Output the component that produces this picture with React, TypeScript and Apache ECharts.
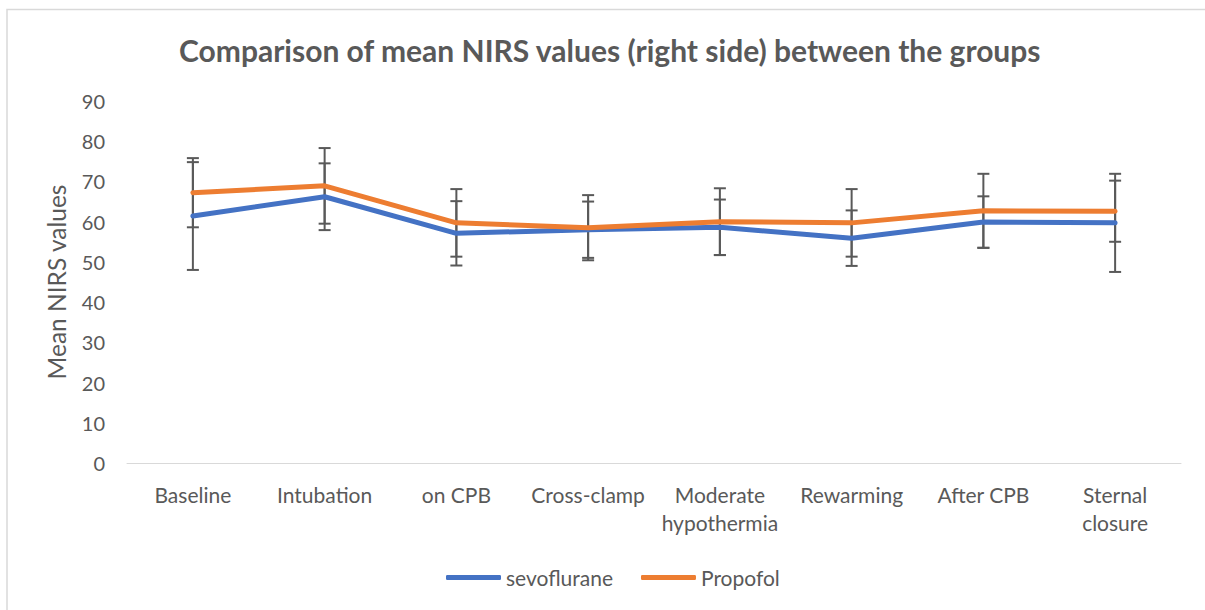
import React, { useEffect, useRef } from "react";
import * as echarts from "echarts";

const categories = [
  "Baseline",
  "Intubation",
  "on CPB",
  "Cross-clamp",
  "Moderate\nhypothermia",
  "Rewarming",
  "After CPB",
  "Sternal\nclosure",
];
const sevoMean = [61.4, 66.2, 57.1, 58.0, 58.6, 55.9, 59.9, 59.7];
const sevoErr = [13.4, 8.3, 8.0, 7.0, 6.9, 6.9, 6.4, 12.2];
const propMean = [67.2, 68.9, 59.7, 58.5, 60.0, 59.7, 62.7, 62.6];
const propErr = [8.6, 9.4, 8.4, 8.1, 8.3, 8.4, 9.2, 7.6];
const yTicks = { min: 0, max: 90, interval: 10 };

const FONT = "Lato";
const GREY = "#595959";

function errData(mean: number[], err: number[]) {
  return mean.map((m, i) => [i, m - err[i], m + err[i]]);
}

function renderErr(params: any, api: any) {
  const x = api.value(0);
  const lo = api.coord([x, api.value(1)]);
  const hi = api.coord([x, api.value(2)]);
  const cap = 6;
  const style = { stroke: GREY, lineWidth: 2 };
  return {
    type: "group",
    children: [
      { type: "line", shape: { x1: lo[0], y1: lo[1], x2: hi[0], y2: hi[1] }, style },
      { type: "line", shape: { x1: hi[0] - cap, y1: hi[1], x2: hi[0] + cap, y2: hi[1] }, style },
      { type: "line", shape: { x1: lo[0] - cap, y1: lo[1], x2: lo[0] + cap, y2: lo[1] }, style },
    ],
  };
}

export default function App() {
  const ref = useRef<HTMLDivElement>(null);
  useEffect(() => {
    document.body.style.margin = "0";
    const chart = echarts.init(ref.current!, null, { renderer: "svg" });
    chart.setOption({
      animation: false,
      backgroundColor: "#ffffff",
      textStyle: { fontFamily: FONT },
      title: {
        text: "Comparison of mean NIRS values (right side) between the groups",
        left: 174,
        top: 30,
        textStyle: { fontFamily: FONT, fontSize: 30, fontWeight: "bold", color: GREY },
      },
      graphic: [
        {
          type: "rect",
          shape: { x: 7, y: 9.5, width: 1400, height: 800 },
          style: { fill: "none", stroke: "#d9d9d9", lineWidth: 1.5 },
          silent: true,
        },
      ],
      legend: {
        left: 441,
        top: 562,
        icon: "roundRect",
        itemWidth: 55,
        itemHeight: 5,
        itemGap: 28,
        textStyle: { fontFamily: FONT, fontSize: 21, color: GREY },
        data: ["sevoflurane", "Propofol"],
      },
      grid: { left: 127, right: 24, top: 101, bottom: 147 },
      xAxis: {
        type: "category",
        data: categories,
        boundaryGap: true,
        axisLine: { show: true, lineStyle: { color: "#d9d9d9", width: 1 } },
        axisTick: { show: false },
        axisLabel: {
          interval: 0,
          fontFamily: FONT,
          fontSize: 21,
          color: GREY,
          margin: 17,
          lineHeight: 28,
        },
      },
      yAxis: {
        type: "value",
        min: yTicks.min,
        max: yTicks.max,
        interval: yTicks.interval,
        name: "Mean NIRS values",
        nameLocation: "middle",
        nameGap: 58,
        nameTextStyle: { fontFamily: FONT, fontSize: 24.5, color: GREY },
        axisLine: { show: false },
        axisTick: { show: false },
        splitLine: { show: false },
        axisLabel: { fontFamily: FONT, fontSize: 20, color: GREY, margin: 22 },
      },
      series: [
        {
          type: "custom",
          name: "sevoErr",
          renderItem: renderErr,
          data: errData(sevoMean, sevoErr),
          encode: { x: 0, y: [1, 2] },
          z: 1,
          silent: true,
        },
        {
          type: "custom",
          name: "propErr",
          renderItem: renderErr,
          data: errData(propMean, propErr),
          encode: { x: 0, y: [1, 2] },
          z: 1,
          silent: true,
        },
        {
          type: "line",
          name: "sevoflurane",
          data: sevoMean,
          symbol: "none",
          lineStyle: { color: "#4472C4", width: 5, cap: "round", join: "round" },
          itemStyle: { color: "#4472C4" },
          z: 3,
        },
        {
          type: "line",
          name: "Propofol",
          data: propMean,
          symbol: "none",
          lineStyle: { color: "#ED7D31", width: 5, cap: "round", join: "round" },
          itemStyle: { color: "#ED7D31" },
          z: 4,
        },
      ],
    });
    return () => chart.dispose();
  }, []);
  return <div ref={ref} style={{ position: "absolute", left: 0, top: 0, width: 1205, height: 610 }} />;
}
